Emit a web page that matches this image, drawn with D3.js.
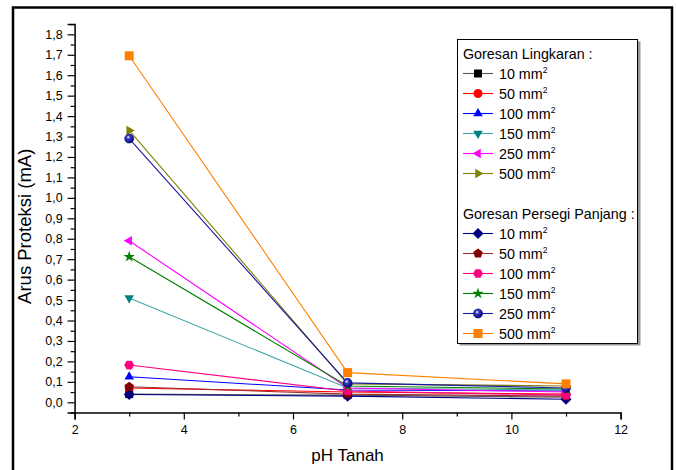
<!DOCTYPE html>
<html>
<head>
<meta charset="utf-8">
<script src="https://cdn.jsdelivr.net/npm/d3@7"></script>
<style>
  body { margin: 0; background: #fff; }
  text { font-family: "Liberation Sans", Arial, sans-serif; }
</style>
</head>
<body>
<div id="chart"></div>
<script>
const width = 676;
const height = 470;

// pH values (x)
const phTanah = [3, 7, 11];

// Goresan Lingkaran (circular scratch)
const lingkaran10 = [0.04, 0.035, 0.025];
const lingkaran50 = [0.07, 0.05, 0.04];
const lingkaran100 = [0.125, 0.06, 0.055];
const lingkaran150 = [0.51, 0.07, 0.06];
const lingkaran250 = [0.79, 0.07, 0.05];
const lingkaran500 = [1.33, 0.09, 0.08];

// Goresan Persegi Panjang (rectangular scratch)
const persegi10 = [0.038, 0.03, 0.015];
const persegi50 = [0.076, 0.04, 0.03];
const persegi100 = [0.182, 0.055, 0.035];
const persegi150 = [0.712, 0.08, 0.065];
const persegi250 = [1.29, 0.095, 0.07];
const persegi500 = [1.695, 0.145, 0.09];

const areaLabels = ["10", "50", "100", "150", "250", "500"];
const yTicks = d3.range(0, 1.81, 0.1);
const xTicks = [2, 4, 6, 8, 10, 12];

const groups = [
    { title: "Goresan Lingkaran :", series: [
        { values: lingkaran10, color: "#000000", line: "#555555", shape: "square" },
        { values: lingkaran50, color: "#ff0000", line: "#ff0000", shape: "circle" },
        { values: lingkaran100, color: "#0000ff", line: "#0000ff", shape: "up" },
        { values: lingkaran150, color: "#008080", line: "#3fa6a6", shape: "down" },
        { values: lingkaran250, color: "#ff00ff", line: "#ff00ff", shape: "left" },
        { values: lingkaran500, color: "#808000", line: "#808000", shape: "right" }
    ]},
    { title: "Goresan Persegi Panjang :", series: [
        { values: persegi10, color: "#000080", line: "#000080", shape: "diamond" },
        { values: persegi50, color: "#800000", line: "#a03030", shape: "pentagon" },
        { values: persegi100, color: "#ff0080", line: "#ff0080", shape: "hexagon" },
        { values: persegi150, color: "#008000", line: "#008000", shape: "star" },
        { values: persegi250, color: "#0000a0", line: "#1a1aa0", shape: "sphere" },
        { values: persegi500, color: "#ff8000", line: "#ff8000", shape: "bigsquare" }
    ]}
];

const margin = { left: 74.6, right: 620.6, top: 24.1, bottom: 412.5 };

const x = d3.scaleLinear().domain([2, 12]).range([margin.left, margin.right]);
const y = d3.scaleLinear().domain([-0.05, 1.85]).range([margin.bottom, margin.top]);

const svg = d3.select("#chart").append("svg")
    .attr("width", width)
    .attr("height", height);

// outer frame
svg.append("rect")
    .attr("x", 13).attr("y", 7.5)
    .attr("width", 659).attr("height", 470)
    .attr("fill", "none")
    .attr("stroke", "#000")
    .attr("stroke-width", 2.5);

const defs = svg.append("defs");
const grad = defs.append("radialGradient")
    .attr("id", "sphere")
    .attr("cx", "40%").attr("cy", "35%").attr("r", "65%");
grad.append("stop").attr("offset", "0%").attr("stop-color", "#ffffff");
grad.append("stop").attr("offset", "30%").attr("stop-color", "#4040c8");
grad.append("stop").attr("offset", "100%").attr("stop-color", "#000080");

function polygon(n, r, rot) {
    const pts = d3.range(n).map(i => {
        const a = rot + i * 2 * Math.PI / n;
        return [r * Math.cos(a), r * Math.sin(a)];
    });
    return "M" + pts.map(p => p.join(",")).join("L") + "Z";
}

function symbolPath(shape) {
    switch (shape) {
        case "square": return "M-4,-4H4V4H-4Z";
        case "bigsquare": return "M-4.5,-4.5H4.5V4.5H-4.5Z";
        case "circle": return d3.symbol(d3.symbolCircle, 64)();
        case "sphere": return d3.symbol(d3.symbolCircle, 64)();
        case "up": return polygon(3, 5.5, -Math.PI / 2);
        case "down": return polygon(3, 5.5, Math.PI / 2);
        case "left": return polygon(3, 5.5, Math.PI);
        case "right": return polygon(3, 5.5, 0);
        case "diamond": return polygon(4, 5.5, 0);
        case "pentagon": return polygon(5, 5, -Math.PI / 2);
        case "hexagon": return polygon(6, 5, 0);
        case "star": return d3.symbol(d3.symbolStar, 40)();
    }
}

function drawSymbol(g, s) {
    g.append("path")
        .attr("d", symbolPath(s.shape))
        .attr("fill", s.shape === "sphere" ? "url(#sphere)" : s.color)
        .attr("stroke", s.shape === "sphere" ? "#000060" : "none")
        .attr("stroke-width", 0.6);
}

// axes
const yAxis = svg.append("g").attr("transform", `translate(${margin.left},0)`);
yAxis.call(d3.axisLeft(y).tickValues(yTicks).tickSize(7).tickPadding(5)
    .tickFormat(d => d3.format(".1f")(d).replace(".", ",")));
yAxis.append("g").call(d3.axisLeft(y).tickValues(d3.range(-0.05, 1.86, 0.1)).tickSize(4).tickFormat(""));

const xAxis = svg.append("g").attr("transform", `translate(0,${margin.bottom})`);
xAxis.call(d3.axisBottom(x).tickValues(xTicks).tickSize(7).tickPadding(6).tickFormat(d3.format("d")));
xAxis.append("g").call(d3.axisBottom(x).tickValues([3, 5, 7, 9, 11]).tickSize(4).tickFormat(""));

svg.selectAll(".domain").attr("stroke-width", 1.5);
svg.selectAll(".tick line").attr("stroke-width", 1.2);
svg.selectAll(".tick text").attr("font-size", 12.5).attr("fill", "#000")
    .attr("font-family", "Liberation Sans, Arial, sans-serif");
yAxis.selectAll("g > .domain").filter((d, i) => i > 0).remove();
xAxis.selectAll("g > .domain").filter((d, i) => i > 0).remove();

// axis titles
svg.append("text")
    .attr("transform", `translate(31,${(margin.top + margin.bottom) / 2 + 8}) rotate(-90)`)
    .attr("text-anchor", "middle")
    .attr("font-size", 18.5)
    .text("Arus Proteksi (mA)");

svg.append("text")
    .attr("x", (margin.left + margin.right) / 2)
    .attr("y", 461)
    .attr("text-anchor", "middle")
    .attr("font-size", 17)
    .text("pH Tanah");

// series
const line = d3.line().x((d, i) => x(phTanah[i])).y(d => y(d));
const allSeries = groups.flatMap(g => g.series);

allSeries.forEach(s => {
    svg.append("path")
        .datum(s.values)
        .attr("d", line)
        .attr("fill", "none")
        .attr("stroke", s.line)
        .attr("stroke-width", 1.1);
    s.values.forEach((v, i) => {
        const g = svg.append("g").attr("transform", `translate(${x(phTanah[i])},${y(v)})`);
        drawSymbol(g, s);
    });
});

// legend
const legend = svg.append("g");
legend.append("rect")
    .attr("x", 459.5).attr("y", 41.5).attr("width", 181).attr("height", 304)
    .attr("fill", "#999");
legend.append("rect")
    .attr("x", 457.5).attr("y", 39.5).attr("width", 180).attr("height", 304)
    .attr("fill", "#fff").attr("stroke", "#000").attr("stroke-width", 1);

groups.forEach((grp, gi) => {
    const top = 54 + gi * 160;
    legend.append("text")
        .attr("x", 463).attr("y", top + 5)
        .attr("font-size", 14.3)
        .text(grp.title);
    grp.series.forEach((s, i) => {
        const cy = top + 19.5 + i * 20;
        legend.append("line")
            .attr("x1", 463).attr("x2", 493).attr("y1", cy).attr("y2", cy)
            .attr("stroke", s.line).attr("stroke-width", 1.1);
        drawSymbol(legend.append("g").attr("transform", `translate(478,${cy})`), s);
        const t = legend.append("text")
            .attr("x", 499).attr("y", cy + 5.5)
            .attr("font-size", 14.3);
        t.append("tspan").text(areaLabels[i] + " mm");
        t.append("tspan").attr("font-size", 8.5).attr("dy", -6.5).text("2");
    });
});
</script>
</body>
</html>
